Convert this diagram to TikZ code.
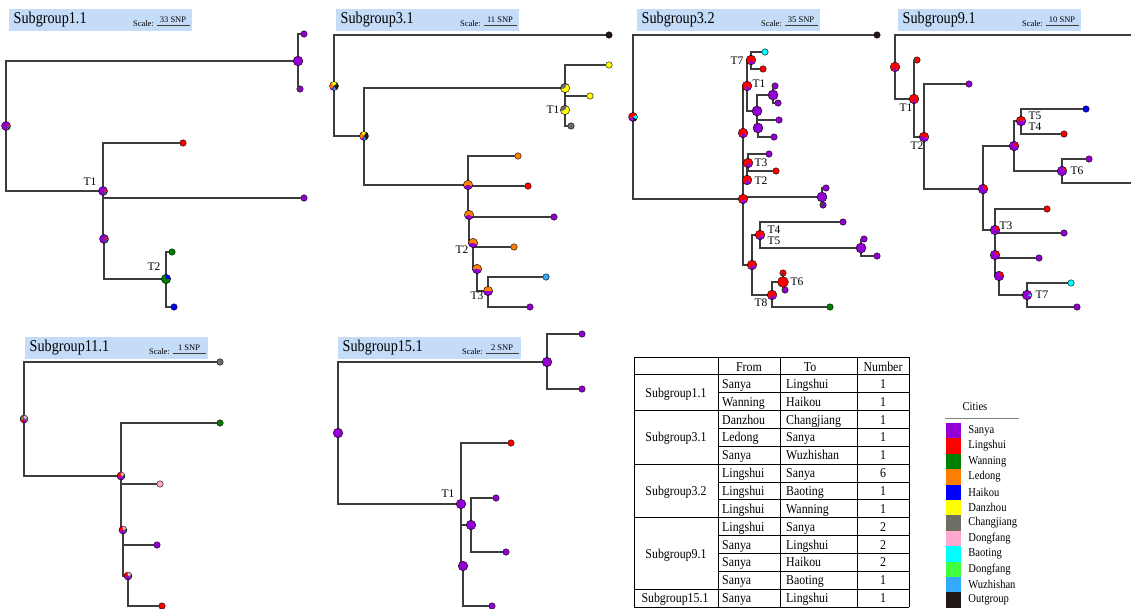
\documentclass[tikz,border=0pt]{standalone}
\usepackage{fontspec}
\setmainfont{Liberation Serif}
\definecolor{sanya}{RGB}{148,0,211}
\definecolor{lingshui}{RGB}{255,0,0}
\definecolor{wanning}{RGB}{0,128,0}
\definecolor{ledong}{RGB}{255,128,0}
\definecolor{haikou}{RGB}{0,0,255}
\definecolor{danzhou}{RGB}{255,255,0}
\definecolor{changjiang}{RGB}{110,110,100}
\definecolor{dongfang}{RGB}{255,168,208}
\definecolor{baoting}{RGB}{0,255,255}
\definecolor{dongfangg}{RGB}{64,255,64}
\definecolor{wuzhishan}{RGB}{51,170,255}
\definecolor{outgroup}{RGB}{35,24,21}
\definecolor{edgegray}{RGB}{60,60,60}
\definecolor{boxblue}{RGB}{196,220,248}
\tikzset{
  edge/.style={draw=edgegray, line width=1.1pt},
  leaf/.style={circle, draw=black, line width=0.4pt, inner sep=0pt, minimum size=6.5pt},
  tlabel/.style={font=\fontsize{11.5}{11.5}\selectfont, inner sep=0pt},
  titlebg/.style={fill=boxblue, inner sep=0pt, minimum width=183pt, minimum height=22pt},
  titletext/.style={font=\fontsize{16.5}{16.5}\selectfont, inner sep=0pt},
  scaletext/.style={font=\fontsize{8.5}{8.5}\selectfont, inner sep=0pt},
  scalebar/.style={draw=edgegray, line width=0.8pt},
  tabtext/.style={font=\fontsize{13.5}{13.5}\selectfont, inner sep=0pt},
  tabline/.style={draw=black, line width=0.9pt},
  swatch/.style={inner sep=0pt, minimum width=15pt, minimum height=15.4pt},
  legtext/.style={font=\fontsize{12}{12}\selectfont, inner sep=0pt}
}
\newcommand\cnd[1]{\scalebox{0.88}[1]{#1}}
\newcommand\pieat[3]{%
  \foreach \pa/\pb/\pc in {#3}{\fill[\pc] (#1) -- ++(\pa:#2pt) arc[start angle=\pa, end angle=\pb, radius=#2pt] -- cycle;}
  \draw[line width=0.4pt] (#1) circle[radius=#2pt];}
\newcommand\subtitlebox[5]{%
  \node[titlebg, anchor=north west] (#1) at (#2,#3) {};
  \node[titletext, anchor=west] (#1t) at ([xshift=4.5pt,yshift=1pt]#1.west) {\scalebox{0.86}[1]{#4}};
  \node[scaletext, anchor=base east] (#1k) at ([xshift=145pt,yshift=-6pt]#1.west) {Scale:};
  \node[scaletext, anchor=base] (#1s) at ([xshift=164pt,yshift=-2pt]#1.west) {#5};
  \draw[scalebar] ([xshift=148pt,yshift=-5.5pt]#1.west) -- ([xshift=181pt,yshift=-5.5pt]#1.west);}
\begin{document}
\begin{tikzpicture}[x=1pt,y=-1pt]
\useasboundingbox (0,0) rectangle (1131,608);

% ---------- titles ----------
\subtitlebox{TA}{9}{9}{Subgroup1.1}{33 SNP}
\subtitlebox{TB}{336}{9}{Subgroup3.1}{11 SNP}
\subtitlebox{TC}{637}{9}{Subgroup3.2}{35 SNP}
\subtitlebox{TD}{898}{9}{Subgroup9.1}{10 SNP}
\subtitlebox{TE}{25}{337}{Subgroup11.1}{1 SNP}
\subtitlebox{TF}{338}{337}{Subgroup15.1}{2 SNP}

% ---------- Subgroup1.1 ----------
\coordinate (A_r) at (6,126);
\coordinate (A_a) at (298,61);
\coordinate (A_t1) at (103,191);
\coordinate (A_n2) at (104,239);
\coordinate (A_t2) at (166,279);
\node[leaf,fill=sanya] (A_l1) at (304,34) {};
\node[leaf,fill=sanya] (A_l2) at (300,89) {};
\node[leaf,fill=lingshui] (A_l3) at (183,143) {};
\node[leaf,fill=sanya] (A_l4) at (304,198) {};
\node[leaf,fill=wanning] (A_l5) at (172,252) {};
\node[leaf,fill=haikou] (A_l6) at (174,307) {};
\draw[edge] (A_r) |- (A_a) (A_a) |- (A_l1) (A_a) |- (A_l2) (A_r) |- (A_t1)
  (A_t1) |- (A_l3) (A_t1) |- (A_l4) (A_t1) |- (A_n2) (A_n2) |- (A_t2)
  (A_t2) |- (A_l5) (A_t2) |- (A_l6);
\pieat{A_r}{4.5}{30/300/sanya, 300/330/wanning, 330/350/haikou, 350/390/lingshui}
\pieat{A_a}{4.9}{0/360/sanya}
\pieat{A_t1}{4.5}{30/300/sanya, 300/330/wanning, 330/350/haikou, 350/390/lingshui}
\pieat{A_n2}{4.5}{30/300/sanya, 300/330/wanning, 330/350/haikou, 350/390/lingshui}
\pieat{A_t2}{4.7}{0/100/haikou, 100/360/wanning}
\node[tlabel] (A_T1) at (90,182) {T1};
\node[tlabel] (A_T2) at (154,267) {T2};

% ---------- Subgroup3.1 ----------
\coordinate (B_r) at (334,86);
\coordinate (B_n1) at (364,136);
\coordinate (B_n2) at (565,88);
\coordinate (B_t1) at (565,110);
\coordinate (B_n3) at (468,185);
\coordinate (B_n4) at (469,215);
\coordinate (B_t2) at (473,243);
\coordinate (B_n5) at (477,269);
\coordinate (B_t3) at (488,291);
\node[leaf,fill=outgroup] (B_og) at (609,35) {};
\node[leaf,fill=danzhou] (B_l1) at (609,65) {};
\node[leaf,fill=danzhou] (B_l2) at (590,96) {};
\node[leaf,fill=changjiang] (B_l3) at (571,126) {};
\node[leaf,fill=ledong] (B_l4) at (518,156) {};
\node[leaf,fill=lingshui] (B_l5) at (528,186) {};
\node[leaf,fill=sanya] (B_l6) at (554,217) {};
\node[leaf,fill=ledong] (B_l7) at (514,247) {};
\node[leaf,fill=wuzhishan] (B_l8) at (546,277) {};
\node[leaf,fill=sanya] (B_l9) at (530,307) {};
\draw[edge] (B_r) |- (B_og) (B_r) |- (B_n1) (B_n1) |- (B_n2) (B_n2) |- (B_l1)
  (B_n2) |- (B_l2) (B_n2) |- (B_t1) (B_t1) |- (B_l3) (B_n1) |- (B_n3)
  (B_n3) |- (B_l4) (B_n3) |- (B_l5) (B_n3) |- (B_n4) (B_n4) |- (B_l6)
  (B_n4) |- (B_t2) (B_t2) |- (B_l7) (B_t2) |- (B_n5) (B_n5) |- (B_t3)
  (B_t3) |- (B_l8) (B_t3) |- (B_l9);
\pieat{B_r}{4.5}{45/135/danzhou, 135/225/ledong, 225/260/sanya, 260/300/wuzhishan, 300/405/outgroup}
\pieat{B_n1}{4.5}{60/130/danzhou, 130/230/ledong, 230/275/sanya, 275/300/wuzhishan, 300/420/outgroup}
\pieat{B_n2}{4.7}{60/200/changjiang, 200/420/danzhou}
\pieat{B_t1}{4.7}{60/200/changjiang, 200/420/danzhou}
\pieat{B_n3}{4.7}{-20/200/ledong, 200/340/sanya}
\pieat{B_n4}{4.7}{-20/200/ledong, 200/340/sanya}
\pieat{B_t2}{4.7}{-20/190/ledong, 190/340/sanya}
\pieat{B_n5}{4.7}{-10/190/ledong, 190/350/sanya}
\pieat{B_t3}{4.7}{0/180/ledong, 180/360/sanya}
\node[tlabel] (B_T1) at (553,110) {T1};
\node[tlabel] (B_T2) at (462,250) {T2};
\node[tlabel] (B_T3) at (477,296) {T3};

% ---------- Subgroup3.2 ----------
\coordinate (C_r) at (633,117);
\coordinate (C_n1) at (743,199);
\coordinate (C_n2) at (743,133);
\coordinate (C_t1) at (747,86);
\coordinate (C_t7) at (751,60);
\coordinate (C_a) at (757,111);
\coordinate (C_b) at (773,95);
\coordinate (C_c) at (758,128);
\coordinate (C_t3) at (748,163);
\coordinate (C_t2) at (747,180);
\coordinate (C_big) at (822,197);
\coordinate (C_n3) at (752,265);
\coordinate (C_t4) at (760,235);
\coordinate (C_d) at (861,248);
\coordinate (C_t8) at (772,295);
\coordinate (C_t6) at (783,282);
\node[leaf,fill=outgroup] (C_og) at (877,35) {};
\node[leaf,fill=baoting] (C_l1) at (765,52) {};
\node[leaf,fill=lingshui] (C_l2) at (763,69) {};
\node[leaf,fill=sanya] (C_l3) at (775,86) {};
\node[leaf,fill=sanya] (C_l4) at (778,103) {};
\node[leaf,fill=sanya] (C_l5) at (779,120) {};
\node[leaf,fill=sanya] (C_l6) at (774,137) {};
\node[leaf,fill=sanya] (C_l7) at (769,154) {};
\node[leaf,fill=lingshui] (C_l8) at (776,171) {};
\node[leaf,fill=sanya] (C_l9) at (826,188) {};
\node[leaf,fill=sanya] (C_l10) at (823,205) {};
\node[leaf,fill=sanya] (C_l11) at (843,222) {};
\node[leaf,fill=sanya] (C_l12) at (864,239) {};
\node[leaf,fill=sanya] (C_l13) at (877,256) {};
\node[leaf,fill=lingshui] (C_l14) at (783,273) {};
\node[leaf,fill=sanya] (C_l15) at (785,290) {};
\node[leaf,fill=wanning] (C_l16) at (830,307) {};
\draw[edge] (C_r) |- (C_og) (C_r) |- (C_n1) (C_n1) |- (C_n2) (C_n2) |- (C_t1)
  (C_t1) |- (C_t7) (C_t7) |- (C_l1) (C_t7) |- (C_l2) (C_t1) |- (C_a)
  (C_a) |- (C_b) (C_b) |- (C_l3) (C_b) |- (C_l4) (C_a) |- (C_l5)
  (C_a) |- (C_c) (C_c) |- (C_l6) (C_n1) |- (C_t2) (C_t2) |- (C_t3)
  (C_t3) |- (C_l7) (C_t3) |- (C_l8) (C_n1) |- (C_big) (C_big) |- (C_l9)
  (C_big) |- (C_l10) (C_n1) |- (C_n3) (C_n3) |- (C_t4) (C_t4) |- (C_l11)
  (C_t4) |- (C_d) (C_d) |- (C_l12) (C_d) |- (C_l13) (C_n3) |- (C_t8)
  (C_t8) |- (C_t6) (C_t6) |- (C_l14) (C_t6) |- (C_l15) (C_t8) |- (C_l16);
\pieat{C_r}{4.5}{30/200/lingshui, 200/270/sanya, 270/330/outgroup, 330/390/baoting}
\foreach \q in {C_n1,C_n2,C_t1,C_t7,C_t3,C_t2,C_n3,C_t4,C_t8}{\pieat{\q}{4.8}{-30/240/lingshui, 240/330/sanya}}
\foreach \q in {C_a,C_b,C_c,C_big,C_d}{\pieat{\q}{5}{0/360/sanya}}
\pieat{C_t6}{5.4}{0/360/lingshui}
\node[tlabel] (C_T7) at (737,61) {T7};
\node[tlabel] (C_T1) at (759,84) {T1};
\node[tlabel] (C_T3) at (761,163) {T3};
\node[tlabel] (C_T2) at (761,181) {T2};
\node[tlabel] (C_T4) at (774,230) {T4};
\node[tlabel] (C_T5) at (774,241) {T5};
\node[tlabel] (C_T6) at (797,282) {T6};
\node[tlabel] (C_T8) at (761,303) {T8};

% ---------- Subgroup9.1 ----------
\coordinate (D_r) at (895,67);
\coordinate (D_t1) at (914,99);
\coordinate (D_t2) at (924,137);
\coordinate (D_n1) at (983,189);
\coordinate (D_n2) at (1014,146);
\coordinate (D_t5) at (1021,121);
\coordinate (D_t6) at (1062,171);
\coordinate (D_t3) at (995,230);
\coordinate (D_n3) at (995,255);
\coordinate (D_n4) at (999,276);
\coordinate (D_t7) at (1027,295);
\coordinate (D_og) at (1131,35);
\coordinate (D_e) at (1131,183);
\node[leaf,fill=lingshui] (D_l1) at (917,60) {};
\node[leaf,fill=sanya] (D_l2) at (969,84) {};
\node[leaf,fill=haikou] (D_l3) at (1086,109) {};
\node[leaf,fill=lingshui] (D_l4) at (1064,134) {};
\node[leaf,fill=sanya] (D_l5) at (1089,159) {};
\node[leaf,fill=lingshui] (D_l6) at (1047,209) {};
\node[leaf,fill=sanya] (D_l7) at (1064,233) {};
\node[leaf,fill=sanya] (D_l8) at (1039,258) {};
\node[leaf,fill=baoting] (D_l9) at (1071,283) {};
\node[leaf,fill=sanya] (D_l10) at (1077,307) {};
\draw[edge] (D_r) |- (D_og) (D_r) |- (D_t1) (D_t1) |- (D_l1) (D_t1) |- (D_t2)
  (D_t2) |- (D_l2) (D_t2) |- (D_n1) (D_n1) |- (D_n2) (D_n2) |- (D_t5)
  (D_t5) |- (D_l3) (D_t5) |- (D_l4) (D_n2) |- (D_t6) (D_t6) |- (D_l5)
  (D_t6) |- (D_e) (D_n1) |- (D_t3) (D_t3) |- (D_l6) (D_t3) |- (D_l7)
  (D_t3) |- (D_n3) (D_n3) |- (D_l8) (D_n3) |- (D_n4) (D_n4) |- (D_t7)
  (D_t7) |- (D_l9) (D_t7) |- (D_l10);
\pieat{D_r}{4.8}{-60/250/lingshui, 250/300/sanya}
\pieat{D_t1}{4.8}{-60/250/lingshui, 250/300/sanya}
\pieat{D_t2}{4.8}{-10/170/lingshui, 170/350/sanya}
\pieat{D_n1}{4.8}{0/80/lingshui, 80/360/sanya}
\pieat{D_n2}{4.8}{0/80/lingshui, 80/360/sanya}
\pieat{D_t5}{4.8}{10/180/lingshui, 180/370/sanya}
\pieat{D_t6}{4.8}{20/60/lingshui, 60/380/sanya}
\pieat{D_t3}{4.8}{0/90/lingshui, 90/360/sanya}
\pieat{D_n3}{4.8}{0/90/lingshui, 90/360/sanya}
\pieat{D_n4}{4.8}{0/90/lingshui, 90/360/sanya}
\pieat{D_t7}{4.8}{-20/10/baoting, 10/340/sanya}
\node[tlabel] (D_T1) at (906,108) {T1};
\node[tlabel] (D_T2) at (917,146) {T2};
\node[tlabel] (D_T5) at (1035,116) {T5};
\node[tlabel] (D_T4) at (1035,127) {T4};
\node[tlabel] (D_T6) at (1077,171) {T6};
\node[tlabel] (D_T3) at (1006,226) {T3};
\node[tlabel] (D_T7) at (1042,295) {T7};

% ---------- Subgroup11.1 ----------
\coordinate (E_r) at (24,419);
\coordinate (E_n1) at (121,476);
\coordinate (E_n2) at (123,530);
\coordinate (E_n3) at (128,576);
\node[leaf,fill=changjiang] (E_og) at (220,362) {};
\node[leaf,fill=wanning] (E_l1) at (220,423) {};
\node[leaf,fill=dongfang] (E_l2) at (160,484) {};
\node[leaf,fill=sanya] (E_l3) at (157,545) {};
\node[leaf,fill=lingshui] (E_l4) at (162,606) {};
\draw[edge] (E_r) |- (E_og) (E_r) |- (E_n1) (E_n1) |- (E_l1) (E_n1) |- (E_l2)
  (E_n1) |- (E_n2) (E_n2) |- (E_l3) (E_n2) |- (E_n3) (E_n3) |- (E_l4);
\pieat{E_r}{4}{20/100/dongfang, 100/200/changjiang, 200/250/lingshui, 250/330/sanya, 330/380/changjiang}
\foreach \q in {E_n1,E_n2,E_n3}{\pieat{\q}{4}{-20/20/wanning, 20/100/dongfang, 100/200/lingshui, 200/340/sanya}}

% ---------- Subgroup15.1 ----------
\coordinate (F_r) at (338,433);
\coordinate (F_n1) at (547,362);
\coordinate (F_t1) at (461,504);
\coordinate (F_n2) at (471,525);
\coordinate (F_n3) at (463,566);
\node[leaf,fill=sanya] (F_l1) at (582,334) {};
\node[leaf,fill=sanya] (F_l2) at (582,389) {};
\node[leaf,fill=lingshui] (F_l3) at (511,443) {};
\node[leaf,fill=sanya] (F_l4) at (496,498) {};
\node[leaf,fill=sanya] (F_l5) at (506,552) {};
\node[leaf,fill=sanya] (F_l6) at (492,606) {};
\draw[edge] (F_r) |- (F_n1) (F_n1) |- (F_l1) (F_n1) |- (F_l2) (F_r) |- (F_t1)
  (F_t1) |- (F_l3) (F_t1) |- (F_n2) (F_n2) |- (F_l4) (F_n2) |- (F_l5)
  (F_t1) |- (F_n3) (F_n3) |- (F_l6);
\foreach \q in {F_r,F_n1,F_t1,F_n2,F_n3}{\pieat{\q}{4.8}{0/360/sanya}}
\node[tlabel] (F_T1) at (448,494) {T1};

% ---------- table ----------
\foreach \k in {0,1,3,6,9,13,14}{\draw[tabline] (634,{357+17.857*\k}) -- (909,{357+17.857*\k});}
\foreach \k in {2,4,5,7,8,10,11,12}{\draw[tabline] (718,{357+17.857*\k}) -- (909,{357+17.857*\k});}
\foreach \xx in {634,718,780,857,909}{\draw[tabline] (\xx,357) -- (\xx,607);}
\node[tabtext, anchor=base] (h1) at (749,371) {\cnd{From}};
\node[tabtext, anchor=base] (h2) at (810,371) {\cnd{To}};
\node[tabtext, anchor=base] (h3) at (883,371) {\cnd{Number}};
\foreach \i/\f/\t/\n in {1/Sanya/Lingshui/1, 2/Wanning/Haikou/1, 3/Danzhou/Changjiang/1,
  4/Ledong/Sanya/1, 5/Sanya/Wuzhishan/1, 6/Lingshui/Sanya/6, 7/Lingshui/Baoting/1,
  8/Lingshui/Wanning/1, 9/Lingshui/Sanya/2, 10/Sanya/Lingshui/2, 11/Sanya/Haikou/2,
  12/Sanya/Baoting/1, 13/Sanya/Lingshui/1}{
  \node[tabtext, anchor=base west] (rf\i) at (722,{357+17.857*(\i+0.5)+4.5}) {\cnd{\f}};
  \node[tabtext, anchor=base west] (rt\i) at (786,{357+17.857*(\i+0.5)+4.5}) {\cnd{\t}};
  \node[tabtext, anchor=base] (rn\i) at (883,{357+17.857*(\i+0.5)+4.5}) {\cnd{\n}};
}
\node[tabtext, anchor=base] (g1) at (676,397.2) {\cnd{Subgroup1.1}};
\node[tabtext, anchor=base] (g2) at (676,441.9) {\cnd{Subgroup3.1}};
\node[tabtext, anchor=base] (g3) at (676,495.5) {\cnd{Subgroup3.2}};
\node[tabtext, anchor=base] (g4) at (676,558.0) {\cnd{Subgroup9.1}};
\node[tabtext, anchor=base] (g5) at (675,602.7) {\cnd{Subgroup15.1}};

% ---------- legend ----------
\node[legtext] (cities) at (975,407) {\cnd{Cities}};
\draw[draw=gray, line width=0.8pt] (945,418) -- (1019,418);
\foreach \i/\c/\n in {0/sanya/Sanya, 1/lingshui/Lingshui, 2/wanning/Wanning, 3/ledong/Ledong,
  4/haikou/Haikou, 5/danzhou/Danzhou, 6/changjiang/Changjiang, 7/dongfang/Dongfang,
  8/baoting/Baoting, 9/dongfangg/Dongfang, 10/wuzhishan/Wuzhishan, 11/outgroup/Outgroup}{
  \node[swatch, fill=\c] (sw\i) at (953.5,{423+15.4*(\i+0.5)}) {};
  \node[legtext, anchor=west] (lg\i) at ([xshift=7pt]sw\i.east) {\cnd{\n}};
}
\end{tikzpicture}
\end{document}
